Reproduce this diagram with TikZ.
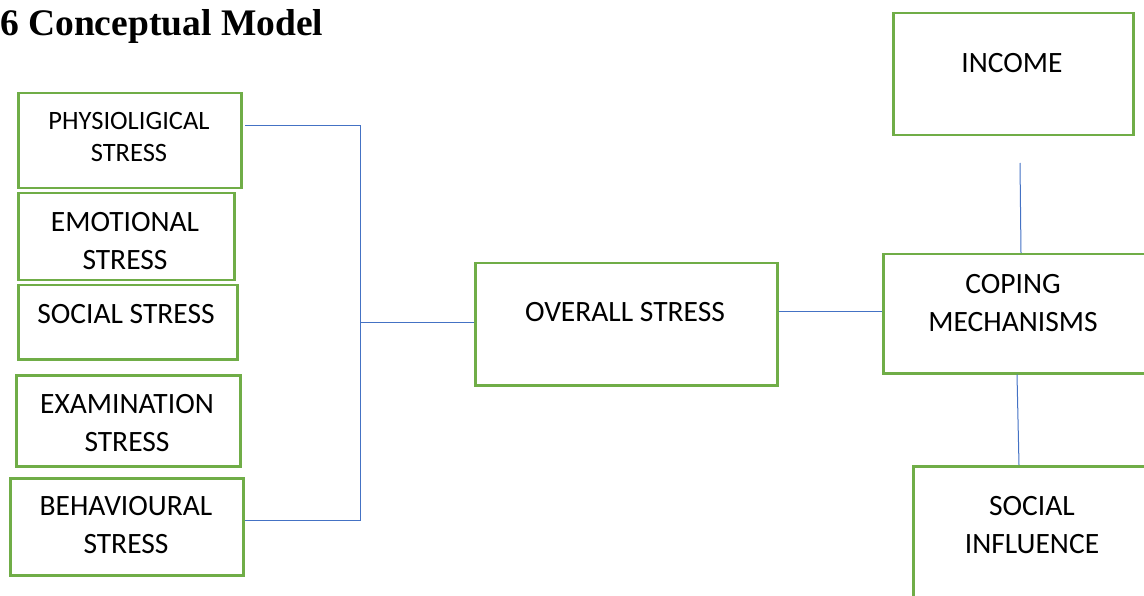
\documentclass[tikz,border=0pt]{standalone}
\usepackage{fontspec}
\setmainfont{Carlito}
\newfontfamily\titlefont{Liberation Serif}
\definecolor{boxgreen}{HTML}{70AD47}
\definecolor{linkblue}{HTML}{4472C4}
\begin{document}
\begin{tikzpicture}[x=1pt,y=-1pt,
  gbox/.style={draw=boxgreen, line width=2.5pt, rectangle, inner sep=0pt, anchor=north west},
  lbl/.style={inner sep=0pt, anchor=north, align=center, text=black},
  big/.style={font=\fontsize{29.5}{38}\selectfont},
  small/.style={font=\fontsize{26.5}{32}\selectfont},
  conn/.style={draw=linkblue, line width=1pt}]
\useasboundingbox (0,0) rectangle (1144,596);
\clip (0,0) rectangle (1144,596);
% title
\node[inner sep=0pt, anchor=base west, font=\titlefont\bfseries\fontsize{37.5}{42}\selectfont] (title) at (0,36) {6 Conceptual Model};
% left boxes
\node[gbox, minimum width=223pt, minimum height=95pt] (phys) at (17,92) {};
\node[gbox, minimum width=216pt, minimum height=87pt] (emo) at (17,192) {};
\node[gbox, minimum width=219pt, minimum height=74pt] (soc) at (17,284) {};
\node[gbox, minimum width=224pt, minimum height=91pt] (exam) at (15,374) {};
\node[gbox, minimum width=233pt, minimum height=97pt] (beh) at (9,477) {};
\node[lbl, small] (physT) at (129,111.9) {PHYSIOLIGICAL\\STRESS};
\node[lbl, big] (emoT) at (125,212) {EMOTIONAL\\STRESS};
\node[lbl, big] (socT) at (126,304) {SOCIAL STRESS};
\node[lbl, big] (examT) at (127,394) {EXAMINATION\\STRESS};
\node[lbl, big] (behT) at (126,496) {BEHAVIOURAL\\STRESS};
% centre and right boxes
\node[gbox, minimum width=302pt, minimum height=122pt] (over) at (474,262) {};
\node[lbl, big] (overT) at (625,302) {OVERALL STRESS};
\node[gbox, minimum width=240pt, minimum height=122pt] (inc) at (892,12) {};
\node[lbl, big] (incT) at (1012,53) {INCOME};
\node[gbox, minimum width=266pt, minimum height=119pt] (cop) at (882,253) {};
\node[lbl, big] (copT) at (1013,274) {COPING\\MECHANISMS};
\node[gbox, minimum width=240pt, minimum height=160pt] (infl) at (912,465) {};
\node[lbl, big] (inflT) at (1032,496) {SOCIAL\\INFLUENCE};
% connectors
\coordinate (j) at (360,322);
\coordinate (ps) at (245,126);
\coordinate (bs) at (245,520);
\coordinate (is) at (1020,163);
\draw[conn] (ps) -| (j);
\draw[conn] (bs) -| (j);
\draw[conn] (j) -- (over.west |- j);
\draw[conn] (over.east |- 0,312) -- (cop.west |- 0,312);
\draw[conn] (is) -- (cop.north -| 1021,0);
\draw[conn] (cop.south -| 1017,0) -- (infl.north -| 1019,0);
\end{tikzpicture}
\end{document}
